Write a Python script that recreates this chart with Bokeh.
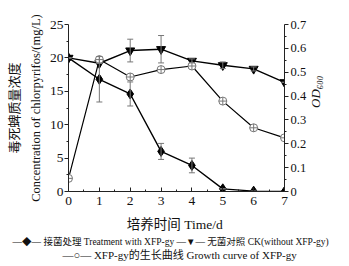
import math
from bokeh.plotting import figure
from bokeh.models import (Range1d, LinearAxis, Whisker, TeeHead, ColumnDataSource, FixedTicker, Title)
from bokeh.embed import file_html
from bokeh.resources import INLINE

days = [0, 1, 2, 3, 4, 5, 6, 7]
treat = [20.0, 16.8, 14.6, 6.0, 3.9, 0.4, 0.05, 0.0]
treat_err = [0, 3.4, 1.8, 1.2, 1.1, 0, 0, 0]
ck = [20.0, 19.2, 21.1, 21.3, 19.55, 18.9, 18.35, 16.35]
ck_err = [0, 0, 1.7, 2.05, 0.3, 0.5, 0.3, 0]
od = [0.055, 0.553, 0.48, 0.511, 0.526, 0.379, 0.267, 0.225]

left_ticks = [0, 5, 10, 15, 20, 25]
right_ticks = [0, 0.1, 0.2, 0.3, 0.4, 0.5, 0.6, 0.7]
x_ticks = [0, 1, 2, 3, 4, 5, 6, 7]

legend_row1 = "—◆— 接菌处理 Treatment with XFP-gy    —▼— 无菌对照 CK(without XFP-gy)"
legend_row2 = "—○— XFP-gy的生长曲线 Growth curve of XFP-gy"

FONT = "'Liberation Serif', 'Noto Sans CJK SC'"
CJK = "Noto Sans CJK SC"
SERIF = "Liberation Serif"
INK = "#222222"
GREY = "#777777"

p = figure(width=333, height=264,
           min_border_left=60, min_border_right=48, min_border_top=24, min_border_bottom=73,
           x_range=Range1d(0, 7), y_range=Range1d(0, 25),
           output_backend="svg", toolbar_location=None)
p.outline_line_color = None
p.xgrid.visible = False
p.ygrid.visible = False
p.extra_y_ranges = {"od": Range1d(0, 0.7)}

p.xaxis.ticker = FixedTicker(ticks=x_ticks, minor_ticks=[i + 0.5 for i in range(7)])
p.yaxis.ticker = FixedTicker(ticks=left_ticks, minor_ticks=[2.5 + 5 * i for i in range(5)])
for ax in (p.xaxis[0], p.yaxis[0]):
    ax.axis_line_color = INK
    ax.major_tick_line_color = INK
    ax.minor_tick_line_color = INK
    ax.major_label_text_font = SERIF
    ax.major_label_text_font_size = "13.5px"
    ax.major_label_text_color = "#111111"
p.xaxis.major_tick_in = 4
p.xaxis.major_tick_out = 0
p.xaxis.minor_tick_in = 2
p.xaxis.minor_tick_out = 0
p.xaxis.major_label_standoff = 5
p.xaxis.axis_label = "培养时间  Time/d"
p.xaxis.axis_label_text_font = FONT
p.xaxis.axis_label_text_font_style = "normal"
p.xaxis.axis_label_text_font_size = "13.5px"
p.xaxis.axis_label_text_color = "#111111"
p.xaxis.axis_label_standoff = 9
p.yaxis.major_tick_in = 0
p.yaxis.major_tick_out = 4
p.yaxis.minor_tick_in = 0
p.yaxis.minor_tick_out = 2
p.yaxis.major_label_standoff = 1


def label_axis(text, font, size, standoff):
    return LinearAxis(ticker=FixedTicker(ticks=[]), axis_line_color=None,
                      major_tick_out=0, major_tick_in=0, minor_tick_out=0, minor_tick_in=0,
                      major_label_standoff=0, axis_label=text, axis_label_text_font=font,
                      axis_label_text_font_style="normal", axis_label_text_font_size=size,
                      axis_label_standoff=standoff, axis_label_text_color="#111111")


p.add_layout(label_axis("Concentration of chlorpyrifos/(mg/L)", SERIF, "12.5px", 4), "left")
p.add_layout(label_axis("毒死蜱质量浓度", CJK, "13px", 3), "left")

rax = LinearAxis(y_range_name="od",
                 ticker=FixedTicker(ticks=right_ticks, minor_ticks=[0.05 + 0.1 * i for i in range(7)]))
rax.axis_line_color = INK
rax.major_tick_line_color = INK
rax.minor_tick_line_color = INK
rax.major_tick_in = 0
rax.major_tick_out = 4
rax.minor_tick_in = 0
rax.minor_tick_out = 2
rax.major_label_standoff = 2
rax.major_label_text_font = SERIF
rax.major_label_text_font_size = "12.5px"
rax.major_label_text_color = "#111111"
rax.axis_label = "OD₆₀₀"
rax.axis_label_text_font = "'Liberation Serif', 'DejaVu Serif'"
rax.axis_label_text_font_style = "italic"
rax.axis_label_text_font_size = "13px"
rax.axis_label_text_color = "#111111"
rax.axis_label_standoff = 6
rax.axis_label_orientation = math.pi / 2
p.add_layout(rax, "right")

# error bars
src_t = ColumnDataSource(dict(x=days, lo=[a - b for a, b in zip(treat, treat_err)],
                              hi=[a + b for a, b in zip(treat, treat_err)]))
src_c = ColumnDataSource(dict(x=days, lo=[a - b for a, b in zip(ck, ck_err)],
                              hi=[a + b for a, b in zip(ck, ck_err)]))
for s in (src_t, src_c):
    p.add_layout(Whisker(base="x", lower="lo", upper="hi", source=s, line_color=GREY, line_width=1,
                         upper_head=TeeHead(size=6, line_color=GREY),
                         lower_head=TeeHead(size=6, line_color=GREY), level="glyph"))

p.line(days, treat, line_color="black", line_width=1.4)
p.scatter(days, treat, marker="diamond", size=10, fill_color="black", line_color="black")
p.line(days, ck, line_color="black", line_width=1.4)
p.scatter(days, ck, marker="inverted_triangle", size=9, fill_color="black", line_color="black")
p.line(days, od, y_range_name="od", line_color="black", line_width=1.2)
p.scatter(days, od, y_range_name="od", marker="circle_cross", size=8,
          fill_color="white", line_color=GREY, line_width=1)

# legend rows as titles below the axis
t1 = Title(text=legend_row1, align="left", offset=-56, standoff=0,
           text_font=FONT, text_font_size="9.5px", text_font_style="normal", text_color="#111111")
t2 = Title(text=legend_row2, align="left", offset=-6, standoff=0,
           text_font=FONT, text_font_size="11px", text_font_style="normal", text_color="#111111")
p.add_layout(t1, "below")
p.add_layout(t2, "below")

open("out.html", "w").write(file_html(p, INLINE))
